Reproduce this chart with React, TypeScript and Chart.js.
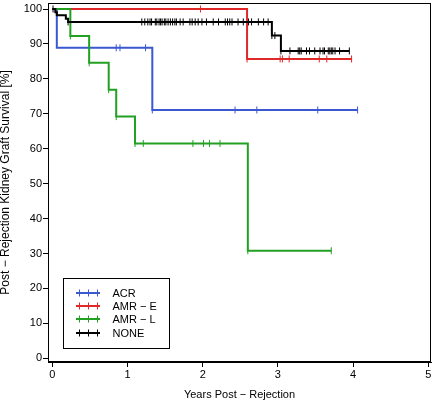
import React, { useEffect, useRef } from "react";
import { Chart, registerables } from "chart.js";

Chart.register(...registerables);

// ---- data ----
const groupNames = ["ACR", "AMR − E", "AMR − L", "NONE"];
const groupColors = ["#3a58d0", "#e02828", "#22a022", "#000000"];

const acrTimes = [0, 0.06, 1.33, 4.06];
const acrSurvival = [100, 88.9, 71.1, 71.1];
const acrCensored = [0.85, 0.9, 1.24, 1.33, 2.43, 2.72, 3.53, 4.06];

const amrETimes = [0, 2.59, 3.98];
const amrESurvival = [100, 85.7, 85.7];
const amrECensored = [1.97, 2.59, 3.03, 3.06, 3.15, 3.55, 3.65, 3.98];

const amrLTimes = [0, 0.24, 0.49, 0.75, 0.85, 1.1, 2.6, 3.71];
const amrLSurvival = [100, 92.3, 84.6, 76.9, 69.2, 61.5, 30.8, 30.8];
const amrLCensored = [0.24, 0.49, 0.75, 0.85, 1.1, 1.21, 1.87, 2.01, 2.09, 2.23, 2.6, 3.71];

const noneTimes = [0, 0.04, 0.06, 0.18, 0.21, 2.92, 3.04, 3.95];
const noneSurvival = [100, 99.1, 98.2, 97.2, 96.3, 92.4, 88.0, 88.0];
const noneCensored = [
  0.01, 0.21, 1.19, 1.23, 1.27, 1.3, 1.32, 1.37, 1.39, 1.42, 1.44, 1.46, 1.49, 1.51,
  1.54, 1.57, 1.6, 1.63, 1.65, 1.7, 1.74, 1.83, 1.86, 1.9, 1.94, 1.99, 2.05, 2.14,
  2.21, 2.3, 2.33, 2.36, 2.39, 2.47, 2.54, 2.61, 2.65, 2.74, 2.81, 2.87, 2.92, 2.96,
  3.04, 3.16, 3.27, 3.29, 3.31, 3.38, 3.42, 3.49, 3.56, 3.6, 3.62, 3.67, 3.69, 3.71,
  3.73, 3.76, 3.82, 3.95,
];

const xTicks = [0, 1, 2, 3, 4, 5];
const yTicks = [0, 10, 20, 30, 40, 50, 60, 70, 80, 90, 100];

const xTitle = "Years Post − Rejection";
const yTitle = "Post − Rejection Kidney Graft Survival [%]";

const FONT = "'Liberation Sans', Arial, Helvetica, sans-serif";

function survivalAt(times: number[], surv: number[], t: number) {
  let v = surv[0];
  for (let i = 0; i < times.length; i++) {
    if (times[i] <= t + 1e-9) v = surv[i];
  }
  return v;
}

function curve(times: number[], surv: number[]) {
  return times.map((t, i) => ({ x: t, y: surv[i] }));
}

function marks(times: number[], surv: number[], cens: number[]) {
  return cens.map((t) => ({ x: t, y: survivalAt(times, surv, t) }));
}

const frameAndLegend = {
  id: "frameAndLegend",
  afterDraw(chart: any) {
    const { ctx, chartArea } = chart;
    ctx.save();
    // frame
    ctx.strokeStyle = "#000";
    ctx.lineWidth = 1;
    ctx.strokeRect(
      Math.round(chartArea.left) + 0.5,
      Math.round(chartArea.top) + 0.5,
      Math.round(chartArea.right - chartArea.left) - 1,
      Math.round(chartArea.bottom - chartArea.top) - 1
    );
    // legend
    const x0 = Math.round(chartArea.left) + 15.5;
    const y0 = Math.round(chartArea.bottom) - 83.5;
    const w = 106;
    const h = 70;
    ctx.fillStyle = "#fff";
    ctx.fillRect(x0, y0, w, h);
    ctx.strokeRect(x0, y0, w, h);
    ctx.font = `11px ${FONT}`;
    ctx.textBaseline = "middle";
    ctx.textAlign = "left";
    groupNames.forEach((name, i) => {
      const y = Math.round(y0 + 14 + i * 13.35);
      ctx.strokeStyle = groupColors[i];
      ctx.lineWidth = 2;
      ctx.beginPath();
      ctx.moveTo(x0 + 12.5, y);
      ctx.lineTo(x0 + 36.5, y);
      ctx.stroke();
      ctx.lineWidth = 1;
      [15.5, 24.5, 33.5].forEach((dx) => {
        ctx.beginPath();
        ctx.moveTo(Math.round(x0 + dx) + 0.5, y - 3.5);
        ctx.lineTo(Math.round(x0 + dx) + 0.5, y + 3.5);
        ctx.stroke();
      });
      ctx.fillStyle = "#000";
      ctx.fillText(name, x0 + 49, y + 0.5);
    });
    ctx.restore();
  },
};

export default function App() {
  const ref = useRef<HTMLCanvasElement>(null);

  useEffect(() => {
    if (!ref.current) return;
    Chart.defaults.font.family = FONT;
    Chart.defaults.font.size = 11;
    Chart.defaults.color = "#000";

    const series = [
      { t: noneTimes, s: noneSurvival, c: noneCensored, col: groupColors[3], name: groupNames[3] },
      { t: amrLTimes, s: amrLSurvival, c: amrLCensored, col: groupColors[2], name: groupNames[2] },
      { t: amrETimes, s: amrESurvival, c: amrECensored, col: groupColors[1], name: groupNames[1] },
      { t: acrTimes, s: acrSurvival, c: acrCensored, col: groupColors[0], name: groupNames[0] },
    ];
    const datasets: any[] = [];
    series.forEach((g) => {
      datasets.push({
        label: g.name,
        data: curve(g.t, g.s),
        borderColor: g.col,
        backgroundColor: g.col,
        borderWidth: 2,
        stepped: "before",
        pointRadius: 0,
        fill: false,
      });
      datasets.push({
        label: g.name + " censored",
        data: marks(g.t, g.s, g.c),
        showLine: false,
        borderColor: g.col,
        backgroundColor: g.col,
        pointStyle: "line",
        rotation: 90,
        pointRadius: 3.5,
        pointBorderWidth: 1,
        pointHoverRadius: 3.5,
      });
    });

    const chart = new Chart(ref.current, {
      type: "line",
      data: { datasets },
      plugins: [frameAndLegend],
      options: {
        animation: false,
        responsive: false,
        devicePixelRatio: 1,
        events: [],
        layout: { padding: { left: 0, top: 3, right: 3, bottom: 0 }, autoPadding: false } as any,
        plugins: { legend: { display: false }, tooltip: { enabled: false } },
        scales: {
          x: {
            type: "linear",
            min: -0.0572,
            max: 5.036,
            afterBuildTicks: (s: any) => {
              s.ticks = xTicks.map((v) => ({ value: v }));
            },
            afterFit: (s: any) => {
              s.height = 40;
              s.paddingLeft = 0;
              s.paddingRight = 0;
              s.paddingTop = 0;
              s.paddingBottom = 0;
            },
            grid: {
              drawOnChartArea: false,
              drawTicks: true,
              tickLength: 5,
              color: "#000",
              lineWidth: 1,
            },
            border: { display: true, color: "#000", width: 1 },
            ticks: { padding: 1, color: "#000", font: { size: 11 }, maxRotation: 0, autoSkip: false },
            title: {
              display: true,
              text: xTitle,
              color: "#000",
              font: { size: 11 },
              padding: { top: 0, bottom: 0 },
            },
          },
          y: {
            type: "linear",
            min: -1.059,
            max: 101.72,
            afterBuildTicks: (s: any) => {
              s.ticks = yTicks.map((v) => ({ value: v }));
            },
            afterFit: (s: any) => {
              s.width = 48;
              s.paddingLeft = 0;
              s.paddingRight = 0;
              s.paddingTop = 0;
              s.paddingBottom = 0;
            },
            grid: {
              drawOnChartArea: false,
              drawTicks: true,
              tickLength: 5,
              color: "#000",
              lineWidth: 1,
            },
            border: { display: true, color: "#000", width: 1 },
            ticks: { padding: 1, color: "#000", font: { size: 11 }, autoSkip: false },
            title: {
              display: true,
              text: yTitle,
              color: "#000",
              font: { size: 12 },
              padding: { top: -1.5, bottom: 0 },
            },
          },
        },
      } as any,
    });
    return () => chart.destroy();
  }, []);

  return (
    <div style={{ position: "fixed", left: 0, top: 0, width: 434, height: 402, background: "#fff" }}>
      <canvas ref={ref} width={434} height={402} style={{ display: "block" }} />
    </div>
  );
}
